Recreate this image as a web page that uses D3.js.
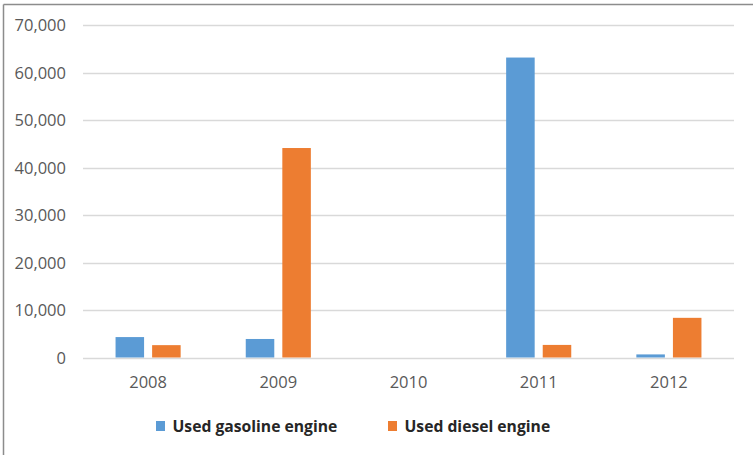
<!DOCTYPE html>
<html>
<head>
<meta charset="utf-8">
<script src="https://cdn.jsdelivr.net/npm/d3@7"></script>
<style>
  html, body { margin: 0; padding: 0; background: #fff; }
  svg { display: block; }
  text { font-family: "Open Sans", "Liberation Sans", sans-serif; }
</style>
</head>
<body>
<svg id="chart" width="753" height="455"></svg>
<script>
const years = ["2008", "2009", "2010", "2011", "2012"];
const seriesNames = ["Used gasoline engine", "Used diesel engine"];
const gasoline = [4300, 3900, 0, 63150, 650];
const diesel = [2600, 44100, 0, 2650, 8350];
const yTicks = [0, 10000, 20000, 30000, 40000, 50000, 60000, 70000];
const colors = ["#5B9BD5", "#ED7D31"];

const svg = d3.select("#chart");
const W = 753, H = 455;
const plot = { left: 83, right: 734, top: 25, bottom: 357.5 };

// frame (top + left borders)
svg.append("line").attr("x1", 3.5).attr("x2", W).attr("y1", 4.5).attr("y2", 4.5)
  .attr("stroke", "#8c8c8c").attr("stroke-width", 1.5);
svg.append("line").attr("x1", 3.5).attr("x2", 3.5).attr("y1", 4.5).attr("y2", H)
  .attr("stroke", "#8c8c8c").attr("stroke-width", 1.5);

const x0 = d3.scaleBand().domain(years).range([plot.left, plot.right]).paddingInner(0).paddingOuter(0);
const bw = x0.bandwidth();
const x1 = d3.scaleBand().domain(seriesNames)
  .range([bw * 0.25, bw * 0.75]).paddingInner(0.22).paddingOuter(0);
const y = d3.scaleLinear().domain([0, 70000]).range([plot.bottom, plot.top]);

// gridlines
svg.append("g").selectAll("line").data(yTicks).join("line")
  .attr("x1", plot.left).attr("x2", plot.right)
  .attr("y1", d => Math.round(y(d)) + 0.5).attr("y2", d => Math.round(y(d)) + 0.5)
  .attr("stroke", "#d9d9d9").attr("stroke-width", 1.3);

// y axis labels
const yAxis = d3.axisLeft(y).tickValues(yTicks).tickFormat(d3.format(",")).tickSize(0).tickPadding(0);
const gy = svg.append("g").attr("transform", `translate(66,0)`).call(yAxis);
gy.select(".domain").remove();
gy.selectAll("text").attr("fill", "#595959").style("font-size", "16.5px")
  .style("font-family", "'Open Sans', sans-serif").attr("dy", "0.36em");

// x axis labels
const xAxis = d3.axisBottom(x0).tickSize(0).tickPadding(0);
const gx = svg.append("g").attr("transform", `translate(0,${plot.bottom + 19})`).call(xAxis);
gx.select(".domain").remove();
gx.selectAll("text").attr("fill", "#595959").style("font-size", "16.5px")
  .style("font-family", "'Open Sans', sans-serif");

// bars
const data = years.map((yr, i) => ({ year: yr, values: [gasoline[i], diesel[i]] }));
const groups = svg.append("g").selectAll("g").data(data).join("g")
  .attr("transform", d => `translate(${x0(d.year)},0)`);
groups.selectAll("rect").data(d => d.values.map((v, j) => ({ s: seriesNames[j], v, j })))
  .join("rect")
  .attr("x", d => x1(d.s))
  .attr("width", x1.bandwidth())
  .attr("y", d => y(d.v))
  .attr("height", d => y(0) - y(d.v))
  .attr("fill", d => colors[d.j]);

// legend
const legendItems = [
  { name: seriesNames[0], color: colors[0], x: 156 },
  { name: seriesNames[1], color: colors[1], x: 388 }
];
const lg = svg.append("g").selectAll("g").data(legendItems).join("g")
  .attr("transform", d => `translate(${d.x},0)`);
lg.append("rect").attr("x", 0).attr("y", 421).attr("width", 9).attr("height", 10)
  .attr("fill", d => d.color);
lg.append("text").attr("x", 16.5).attr("y", 431.5)
  .attr("fill", "#262626").style("font-size", "15.7px").style("font-weight", "bold")
  .text(d => d.name);
</script>
</body>
</html>
